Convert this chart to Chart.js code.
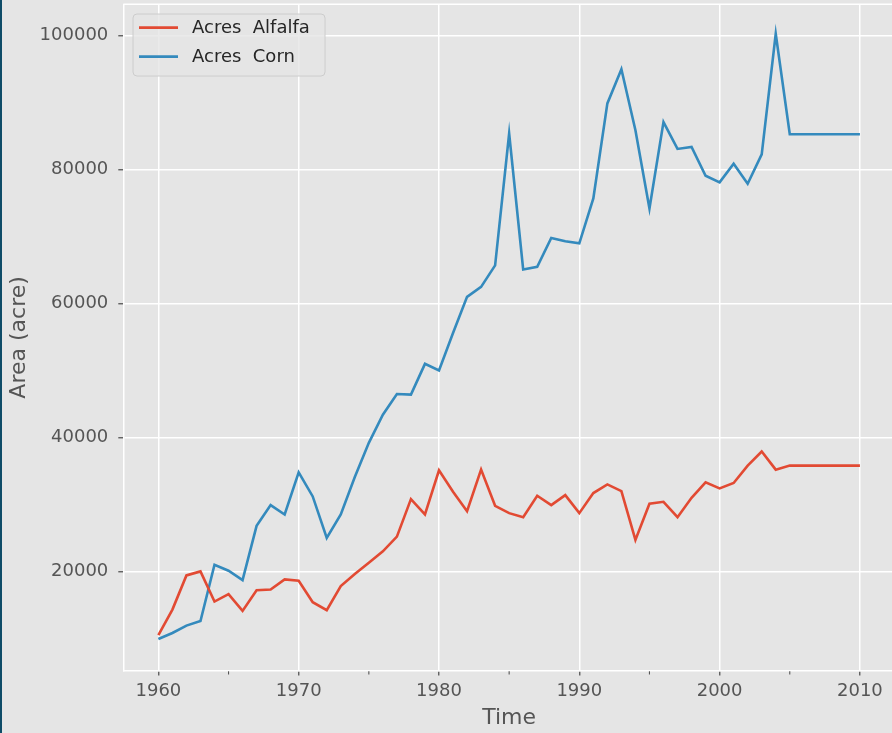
<!DOCTYPE html>
<html><head><meta charset="utf-8">
<script src="https://cdn.jsdelivr.net/npm/chart.js@4.4.0/dist/chart.umd.min.js"></script>
<style>
html,body{margin:0;padding:0;background:#e5e5e5;overflow:hidden;width:892px;height:733px}
#wrap{position:absolute;left:0;top:0;width:897px;height:733px}
#edge{position:absolute;left:0;top:0;width:2px;height:733px;background:#0f4c68;z-index:2}
</style></head><body>
<div id="wrap"><canvas id="c"></canvas></div><div id="edge"></div>
<script>
const years = [1960,1961,1962,1963,1964,1965,1966,1967,1968,1969,
  1970,1971,1972,1973,1974,1975,1976,1977,1978,1979,
  1980,1981,1982,1983,1984,1985,1986,1987,1988,1989,
  1990,1991,1992,1993,1994,1995,1996,1997,1998,1999,
  2000,2001,2002,2003,2004,2005,2006,2007,2008,2009,2010];
const alfalfa = [10500,14300,19400,20000,15500,16600,14100,17200,17300,18800,
  18600,15400,14200,17800,19600,21300,23000,25200,30800,28500,
  35100,31900,29000,35200,29800,28700,28100,31300,29900,31400,
  28700,31700,33000,32000,24700,30100,30400,28100,31000,33300,
  32400,33200,35800,37900,35200,35800,35800,35800,35800,35800,35800];
const corn = [9900,10800,11900,12600,21000,20100,18700,26800,29900,28500,
  34800,31200,25000,28500,34100,39200,43400,46500,46400,51000,
  50000,55600,61000,62500,65700,85400,65100,65500,69800,69300,
  69000,75700,89900,95000,85900,74200,87100,83100,83400,79100,
  78100,80900,77900,82300,100300,85300,85300,85300,85300,85300,85300];
const seriesNames = ['Acres  Alfalfa','Acres  Corn'];
const seriesColors = ['#E24A33','#348ABD'];
const xMajorTicks = [1960,1970,1980,1990,2000,2010];
const xMinorTicks = [1965,1975,1985,1995,2005];
const yTicks = [20000,40000,60000,80000,100000];

const FONT = 'DejaVu Sans';
const toPts = arr => years.map((y,i)=>({x:y,y:arr[i]}));

const framePlugin = {
  id:'frame',
  beforeDatasetsDraw(chart){
    const {ctx, chartArea:a} = chart;
    ctx.save();
    ctx.strokeStyle='#ffffff'; ctx.lineWidth=1.5;
    ctx.beginPath(); ctx.moveTo(a.left,a.top); ctx.lineTo(a.right,a.top); ctx.stroke();
    ctx.restore();
  },
  afterDraw(chart){
    const {ctx, chartArea:a} = chart;
    const xs = chart.scales.x;
    ctx.save();
    ctx.strokeStyle='#555555'; ctx.lineWidth=1.1;
    xMinorTicks.forEach(v=>{
      const px = xs.getPixelForValue(v);
      ctx.beginPath(); ctx.moveTo(px,a.bottom+0.8); ctx.lineTo(px,a.bottom+4); ctx.stroke();
    });
    ctx.restore();
    const bx=a.left+9.7, by=a.top+9.7, bw=192, bh=62;
    ctx.save();
    ctx.fillStyle='rgba(229,229,229,0.8)';
    ctx.strokeStyle='#cccccc'; ctx.lineWidth=1;
    const r=4;
    ctx.beginPath();
    ctx.moveTo(bx+r,by); ctx.lineTo(bx+bw-r,by); ctx.arcTo(bx+bw,by,bx+bw,by+r,r);
    ctx.lineTo(bx+bw,by+bh-r); ctx.arcTo(bx+bw,by+bh,bx+bw-r,by+bh,r);
    ctx.lineTo(bx+r,by+bh); ctx.arcTo(bx,by+bh,bx,by+bh-r,r);
    ctx.lineTo(bx,by+r); ctx.arcTo(bx,by,bx+r,by,r); ctx.closePath();
    ctx.fill(); ctx.stroke();
    ctx.font = '18px "'+FONT+'"';
    ctx.textBaseline='middle'; ctx.textAlign='left';
    chart.data.datasets.forEach((ds,i)=>{
      const yy = by+13.7+i*29;
      ctx.strokeStyle=ds.borderColor; ctx.lineWidth=2.7;
      ctx.beginPath(); ctx.moveTo(bx+6,yy); ctx.lineTo(bx+45,yy); ctx.stroke();
      ctx.fillStyle='#262626';
      ctx.fillText(ds.label,bx+59,yy+1);
    });
    ctx.restore();
  }
};

new Chart(document.getElementById('c'),{
  type:'line',
  data:{datasets:[
    {label:seriesNames[0],data:toPts(alfalfa),borderColor:seriesColors[0],backgroundColor:seriesColors[0]},
    {label:seriesNames[1],data:toPts(corn),borderColor:seriesColors[1],backgroundColor:seriesColors[1]}
  ]},
  plugins:[framePlugin],
  options:{
    responsive:true, maintainAspectRatio:false, animation:false,
    layout:{padding:{top:4.3,right:2,left:0,bottom:0}},
    plugins:{legend:{display:false},tooltip:{enabled:false}},
    elements:{point:{radius:0},line:{borderWidth:2.6,tension:0}},
    scales:{
      x:{type:'linear',min:1957.5,max:2012.5,
        afterBuildTicks:s=>{s.ticks=xMajorTicks.map(v=>({value:v}));},
        afterFit:s=>{s.height=733-670.5;s.paddingLeft=0;s.paddingRight=0;},
        grid:{color:'#ffffff',lineWidth:1.5,tickColor:'#555555',tickLength:5,tickWidth:1.3},
        border:{display:true,color:'#ffffff',width:1.5},
        ticks:{color:'#555555',font:{family:FONT,size:18},padding:5,maxRotation:0,autoSkip:false,callback:v=>String(v)},
        title:{display:true,text:'Time',color:'#555555',font:{family:FONT,size:22},padding:{top:0,bottom:2}}
      },
      y:{type:'linear',min:5200,max:104700,
        afterBuildTicks:s=>{s.ticks=yTicks.map(v=>({value:v}));},
        afterFit:s=>{s.width=123.3;s.paddingTop=0;s.paddingBottom=0;},
        grid:{color:'#ffffff',lineWidth:1.5,tickColor:'#555555',tickLength:5,tickWidth:1.3},
        border:{display:true,color:'#ffffff',width:1.5},
        ticks:{color:'#555555',font:{family:FONT,size:18},padding:10,callback:v=>String(v)},
        title:{display:true,text:'Area (acre)',color:'#555555',font:{family:FONT,size:22},padding:{top:6,bottom:0}}
      }
    }
  }
});
</script></body></html>
